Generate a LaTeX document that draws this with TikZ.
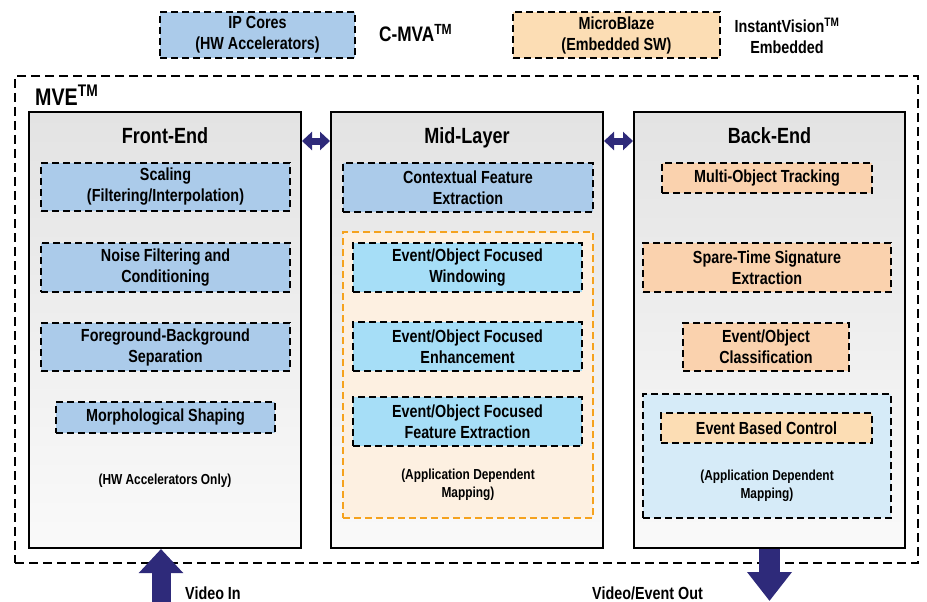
\documentclass[tikz,border=0pt]{standalone}
\usepackage{fontspec}
\setmainfont{Liberation Sans}[FakeStretch=0.82]
\usetikzlibrary{arrows.meta}

\definecolor{hwblue}{RGB}{171,203,234}
\definecolor{swpeach}{RGB}{252,221,180}
\definecolor{bepeach}{RGB}{250,210,174}
\definecolor{midcyan}{RGB}{166,222,247}
\definecolor{maporange}{RGB}{245,162,30}
\definecolor{mapfill}{RGB}{253,240,225}
\definecolor{skyfill}{RGB}{214,235,248}
\definecolor{navy}{RGB}{46,42,122}

\begin{document}
\begin{tikzpicture}[x=1pt, y=-1pt,
  every node/.style={font=\fontsize{17.5}{21}\selectfont\bfseries, align=center, inner sep=0pt},
  dashbox/.style={draw, line width=2.2pt, dash pattern=on 7pt off 4pt},
  hwbox/.style={dashbox, fill=hwblue},
  swbox/.style={dashbox, fill=swpeach},
  bebox/.style={dashbox, fill=bepeach},
  midbox/.style={dashbox, fill=midcyan},
  panel/.style={draw, line width=2pt, top color=black!11, bottom color=black!2,
    minimum width=272pt, minimum height=436pt},
  title/.style={anchor=base, font=\fontsize{22}{26}\selectfont\bfseries},
  small/.style={font=\fontsize{14.5}{18}\selectfont\bfseries},
  bigarrow/.style={navy, line width=19pt},
  dblarrow/.style={navy, line width=7pt,
    {Triangle[width=18pt,length=10pt]}-{Triangle[width=18pt,length=10pt]}}]
  \useasboundingbox (0,0) rectangle (927,602);

  % legend
  \node[hwbox, minimum width=195pt, minimum height=46pt] (ip) at (257.5,35) {IP Cores\\(HW Accelerators)};
  \node[anchor=west, font=\fontsize{21}{25}\selectfont\bfseries] (cmva) at (379,33) {C-MVA\textsuperscript{TM}};
  \node[swbox, minimum width=207pt, minimum height=46pt] (mb) at (616.5,35) {MicroBlaze\\(Embedded SW)};
  \node (iv) at (787,36) {InstantVision\textsuperscript{TM}\\Embedded};

  % MVE frame
  \node[draw, line width=2pt, dash pattern=on 9pt off 5pt, minimum width=903pt, minimum height=487pt] (mve) at (466.5,319.5) {};
  \node[anchor=west, font=\fontsize{24}{28}\selectfont\bfseries] (mvel) at (35,95) {MVE\textsuperscript{TM}};

  % panels
  \node[panel] (front) at (165,330) {};
  \node[panel] (mid) at (467,330) {};
  \node[panel, minimum width=271pt] (back) at (769.5,330) {};

  \node[title] (fet) at (165,143.5) {Front-End};
  \node[title] (mlt) at (467,143.5) {Mid-Layer};
  \node[title] (bet) at (769.5,143.5) {Back-End};

  \draw[dblarrow] (front.east |- 0,141) -- (mid.west |- 0,141);
  \draw[dblarrow] (mid.east |- 0,141) -- (back.west |- 0,141);

  % front-end
  \node[hwbox, minimum width=249pt, minimum height=48pt] (scal) at (165.5,187) {Scaling\\(Filtering/Interpolation)};
  \node[hwbox, minimum width=249pt, minimum height=49pt] (noise) at (165.5,267.5) {Noise Filtering and\\Conditioning};
  \node[hwbox, minimum width=249pt, minimum height=48pt] (fgbg) at (165.5,347) {Foreground-Background\\Separation};
  \node[hwbox, minimum width=219pt, minimum height=31pt] (morph) at (165.5,417.5) {Morphological Shaping};
  \node[small] (hwonly) at (165,481) {(HW Accelerators Only)};

  % mid-layer
  \node[hwbox, minimum width=250pt, minimum height=49pt] (ctx) at (468,187.5) {Contextual Feature\\Extraction};
  \node[draw=maporange, fill=mapfill, line width=2pt, dash pattern=on 7pt off 4pt,
    minimum width=250pt, minimum height=286pt] (midmap) at (468,375) {};
  \node[midbox, minimum width=229pt, minimum height=49pt] (win) at (467.5,267.5) {Event/Object Focused\\Windowing};
  \node[midbox, minimum width=229pt, minimum height=49pt] (enh) at (467.5,346.5) {Event/Object Focused\\Enhancement};
  \node[midbox, minimum width=229pt, minimum height=49pt] (fex) at (467.5,421.5) {Event/Object Focused\\Feature Extraction};
  \node[small] (midapp) at (468,485) {(Application Dependent\\Mapping)};

  % back-end
  \node[bebox, minimum width=210pt, minimum height=30pt] (mot) at (767,178) {Multi-Object Tracking};
  \node[bebox, minimum width=248pt, minimum height=49pt] (sts) at (767,267.5) {Spare-Time Signature\\Extraction};
  \node[bebox, minimum width=166pt, minimum height=48pt] (cls) at (766,347) {Event/Object\\Classification};
  \node[dashbox, fill=skyfill, minimum width=248pt, minimum height=124pt] (backmap) at (767,456) {};
  \node[swbox, minimum width=211pt, minimum height=30pt] (ebc) at (766.5,428) {Event Based Control};
  \node[small] (backapp) at (767,486) {(Application Dependent\\Mapping)};

  % video in / out
  \coordinate (vin) at (161,602);
  \coordinate (vout) at (769.5,601);
  \draw[bigarrow, -{Triangle[width=43pt,length=24pt]}] (vin) -- (vin |- front.south);
  \draw[bigarrow, line width=21pt, -{Triangle[width=43pt,length=29pt]}] (back.south) -- (vout);
  \node[anchor=west] (vinl) at (185,593) {Video In};
  \node[anchor=east] (voutl) at (703,593) {Video/Event Out};
\end{tikzpicture}
\end{document}
